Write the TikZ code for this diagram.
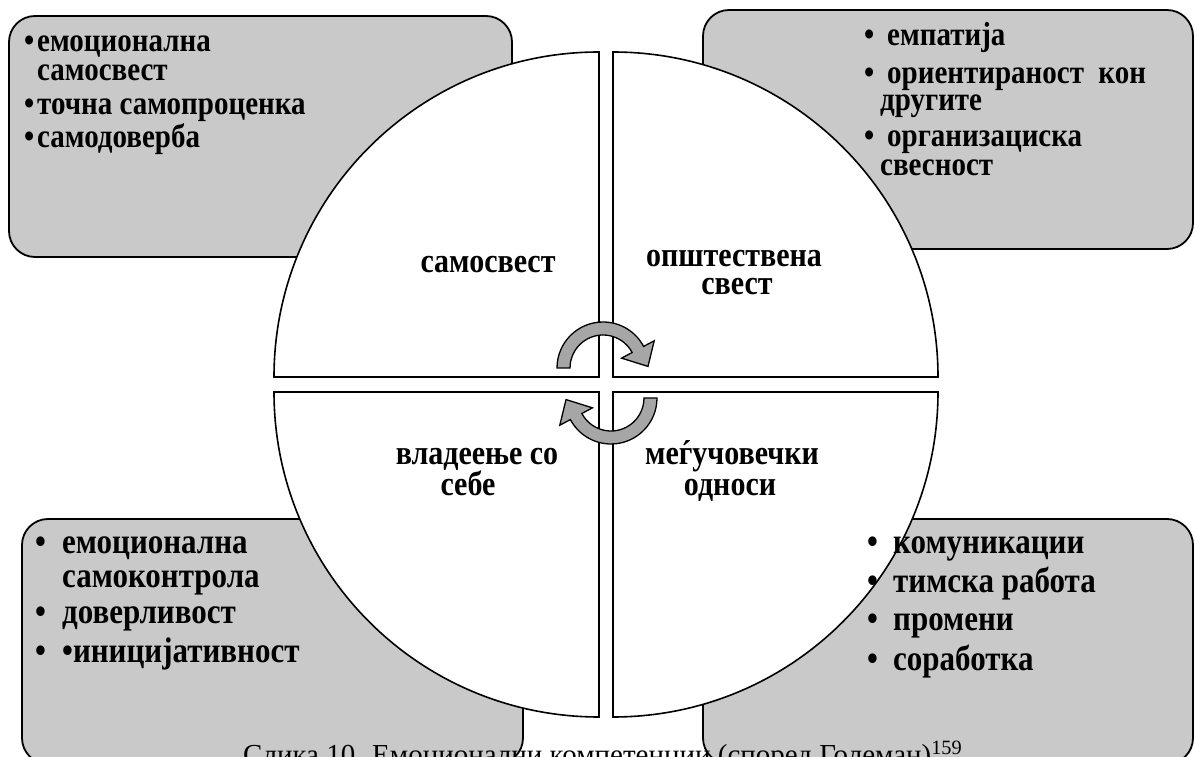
\documentclass[tikz,border=0pt]{standalone}
\usepackage{graphicx}
\usepackage{fontspec}
\setmainfont{Liberation Serif}[BoldFont={Liberation Serif Bold}]
\definecolor{boxgray}{RGB}{201,201,201}
\definecolor{arrowgray}{RGB}{166,166,166}
\newcommand\tallt[1]{\scalebox{1}[1.15]{#1}}
\begin{document}
\begin{tikzpicture}[x=1pt,y=1pt,
  box/.style={draw=black, line width=1.8pt, fill=boxgray, rounded corners=26pt, inner sep=0pt, outer sep=0pt},
  quad/.style={draw=black, line width=1.6pt, fill=white},
  itemA/.style={anchor=base west, inner sep=0pt, font=\fontsize{29}{29}\selectfont\bfseries},
  itemB/.style={anchor=base west, inner sep=0pt, font=\fontsize{31}{31}\selectfont\bfseries},
  lab/.style={anchor=base, inner sep=0pt, font=\fontsize{30}{30}\selectfont\bfseries},
  arrowshape/.style={draw=black, line width=1.3pt, fill=arrowgray, line join=miter},
  pics/cycarrow/.style={code={
    \draw[arrowshape] (180:46pt) arc[start angle=180, end angle=28, radius=46pt]
      -- (28:58pt) -- (2:45pt) -- (28:21pt) -- (28:33pt)
      arc[start angle=28, end angle=180, radius=33pt] -- cycle;
  }}
]
\useasboundingbox (0,0) rectangle (1195,756);

% boxes
\node[box, anchor=south west, minimum width=503pt, minimum height=241pt] (tlbox) at (9,499) {};
\node[box, anchor=south west, minimum width=490pt, minimum height=239pt] (trbox) at (703,507) {};
\node[box, anchor=south west, minimum width=501pt, minimum height=245pt] (blbox) at (22,-8) {};
\node[box, anchor=south west, minimum width=490pt, minimum height=245pt] (brbox) at (703,-8) {};

% quadrants
\draw[quad] (599,379) -- (599,704) arc[start angle=90, end angle=180, radius=325pt] -- cycle;
\draw[quad] (613,379) -- (938,379) arc[start angle=0, end angle=90, radius=325pt] -- cycle;
\draw[quad] (599,364) -- (274,364) arc[start angle=180, end angle=270, radius=325pt] -- cycle;
\draw[quad] (613,364) -- (613,39) arc[start angle=270, end angle=360, radius=325pt] -- cycle;

% quadrant labels
\node[lab] (q1) at (488,483) {\tallt{самосвест}};
\node[lab] (q2a) at (734,489) {\tallt{општествена}};
\node[lab] (q2b) at (737,461) {\tallt{свест}};
\node[lab] (q3a) at (477,291) {\tallt{владеење со}};
\node[lab] (q3b) at (468,260) {\tallt{себе}};
\node[lab] (q4a) at (732,291) {\tallt{меѓучовечки}};
\node[lab] (q4b) at (730,260) {\tallt{односи}};

% cycle arrows
\pic at (603,388) {cycarrow};
\pic[rotate=180] at (611,358) {cycarrow};

% top-left items
\node[itemA] (tl1) at (24,704) {\tallt{\makebox[13pt][l]{•}емоционална}};
\node[itemA] (tl2) at (37,675) {\tallt{самосвест}};
\node[itemA] (tl3) at (24,641) {\tallt{\makebox[13pt][l]{•}точна самопроценка}};
\node[itemA] (tl4) at (24,608) {\tallt{\makebox[13pt][l]{•}самодоверба}};

% top-right items
\node[itemA] (tr1) at (864,710) {\tallt{\makebox[23pt][l]{•}емпатија}};
\node[itemA] (tr2) at (864,672) {\tallt{\makebox[23pt][l]{•}ориентираност\ \ кон}};
\node[itemA] (tr3) at (880,645) {\tallt{другите}};
\node[itemA] (tr4) at (864,609) {\tallt{\makebox[23pt][l]{•}организациска}};
\node[itemA] (tr5) at (880,580) {\tallt{свесност}};

% bottom-left items
\node[itemB] (bl1) at (35,203) {\tallt{\makebox[27pt][l]{•}емоционална}};
\node[itemB] (bl2) at (62,169) {\tallt{самоконтрола}};
\node[itemB] (bl3) at (35,133) {\tallt{\makebox[27pt][l]{•}доверливост}};
\node[itemB] (bl4) at (35,94) {\tallt{\makebox[27pt][l]{•}•иницијативност}};

% bottom-right items
\node[itemB] (br1) at (867,203) {\tallt{\makebox[26pt][l]{•}комуникации}};
\node[itemB] (br2) at (867,164) {\tallt{\makebox[26pt][l]{•}тимска работа}};
\node[itemB] (br3) at (867,126) {\tallt{\makebox[26pt][l]{•}промени}};
\node[itemB] (br4) at (867,86) {\tallt{\makebox[26pt][l]{•}соработка}};

% caption
\node[anchor=base west, inner sep=0pt, font=\fontsize{29}{29}\selectfont] (cap) at (243,-8)
  {Слика 10. Емоционални компетенции (според Големан)\textsuperscript{159}};
\end{tikzpicture}
\end{document}
